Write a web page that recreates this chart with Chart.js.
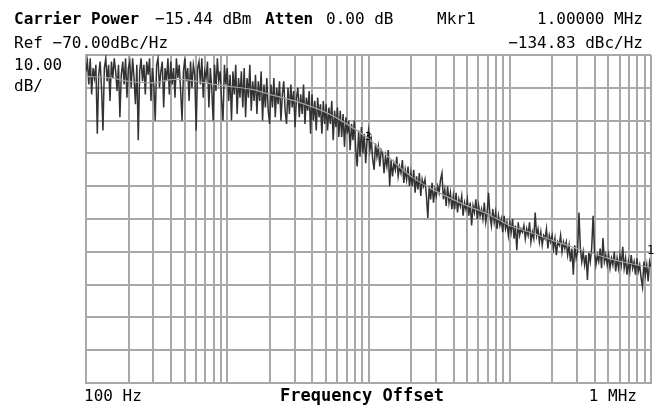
<!DOCTYPE html>
<html>
<head>
<meta charset="utf-8">
<script src="https://cdn.jsdelivr.net/npm/chart.js@4.4.1/dist/chart.umd.min.js"></script>
<style>
  body { margin: 0; background: #fff; }
  canvas { display: block; }
</style>
</head>
<body>
<canvas id="myChart" width="659" height="408"></canvas>
<script>
// sweep: 401 log-spaced points from 100 Hz to 1 MHz
var sweepStart = 100;
var sweepStop = 1000000;

// measured phase noise trace (dBc/Hz), one value per sweep point
var traceValues = [
    -75, -72, -79, -71, -82, -74, -77, -73, -94, -76,
    -72, -80, -93, -74, -71, -78, -73, -84, -72, -77,
    -71, -75, -81, -73, -89, -76, -72, -79, -71, -83,
    -74, -72, -80, -71, -77, -85, -73, -96, -75, -71,
    -78, -73, -82, -72, -76, -71, -84, -74, -79, -90,
    -73, -71, -80, -75, -72, -86, -74, -78, -71, -82,
    -72, -79, -74, -83, -71, -77, -73, -81, -90, -75,
    -71, -78, -74, -84, -72, -80, -73, -76, -93, -74,
    -72, -79, -71, -83, -75, -77, -72, -86, -74, -80,
    -90, -73, -81, -71, -78, -75, -84, -90, -73, -79,
    -74, -84, -76, -90, -75, -82, -73, -88, -77, -83,
    -75, -86, -74, -89, -77, -83, -73, -87, -78, -84,
    -76, -88, -78, -84, -75, -90, -79, -86, -77, -87,
    -91, -79, -86, -77, -89, -80, -85, -78, -90, -82,
    -78, -87, -91, -80, -88, -79, -86, -81, -92, -83,
    -80, -89, -82, -88, -79, -91, -83, -87, -81, -94,
    -82, -90, -84, -93, -83, -89, -85, -94, -84, -91,
    -85, -93, -86, -91, -84, -96, -87, -92, -86, -95,
    -87, -95, -88, -98, -89, -94, -90, -99, -91, -96,
    -90, -99, -104, -93, -101, -92, -100, -94, -103, -96,
    -93, -99, -96, -102, -105, -97, -101, -98, -104, -99,
    -100, -106, -101, -104, -99, -110, -102, -107, -103, -105,
    -101, -107, -104, -106, -102, -109, -105, -108, -104, -110,
    -106, -110, -105, -112, -107, -111, -106, -113, -108, -110,
    -108, -113, -119.7, -110, -114, -109, -115, -111, -113, -110,
    -112, -108, -106, -114, -111, -116, -110, -115, -112, -117,
    -113, -117, -112, -118, -114, -116, -113, -119, -115, -117,
    -114, -119, -115, -122, -116, -118, -114, -120, -116, -119,
    -117, -120, -115, -121, -118, -112, -119, -122, -117, -121,
    -118, -123, -119, -122, -120, -124, -119, -123, -121, -125,
    -121, -124, -120, -126, -122, -129.5, -121, -125, -123, -124,
    -122, -126, -123, -125, -121, -127, -124, -126, -118, -125,
    -123, -127, -124, -128, -125, -126, -123, -129, -125, -127,
    -125, -129, -126, -131, -127, -128, -125, -130, -127, -129,
    -127, -131, -128, -133, -129, -137, -128, -132, -130, -118,
    -129, -133, -130, -134, -131, -138.6, -130, -133, -129, -119,
    -130, -134, -131, -133, -129, -135, -125.8, -133, -131, -134,
    -131, -135, -132, -134, -130, -136, -132, -135, -131, -134,
    -128.5, -135, -132, -137, -133, -136, -131, -135, -133, -137,
    -132, -136, -134, -138, -140.7, -133, -137, -134, -139, -133,
    -134.8
];

// smoothed trace
var smoothFreq = [100, 150, 200, 300, 400, 500, 700, 1000, 1500, 2000, 3000, 5000, 7000,
    10000, 13000, 20000, 30000, 50000, 70000, 100000, 150000, 200000, 300000, 500000, 700000, 1000000];
var smoothValues = [-76.5, -77, -78, -78.5, -77.5, -77.5, -78.5, -79.5, -80.5, -82, -84, -87.5, -91,
    -95.5, -100, -107, -111.5, -116, -118.5, -122, -124.5, -126.5, -129, -132, -133.5, -134.8];

// grid lines on the frequency axis
var gridFreq = [];
[100, 1000, 10000, 100000].forEach(function(d) {
    for (var k = 1; k < 10; k++) gridFreq.push(d * k);
});
gridFreq.push(1000000);

var tracePoints = traceValues.map(function(v, i) {
    var f = sweepStart * Math.pow(sweepStop / sweepStart, i / (traceValues.length - 1));
    return { x: f, y: v };
});
var smoothPoints = smoothFreq.map(function(f, i) {
    return { x: f, y: smoothValues[i] };
});

var gridColor = '#a8a8a8';

// header, footer and marker text
var textPlugin = {
    id: 'analyzerText',
    afterDraw: function(chart) {
        var c = chart.ctx;
        c.save();
        c.fillStyle = '#000';
        c.textBaseline = 'alphabetic';
        var mono = '"DejaVu Sans Mono", monospace';
        function t(s, x, y, size, bold, align) {
            c.font = (bold ? 'bold ' : '') + size + 'px ' + mono;
            c.textAlign = align || 'left';
            c.fillText(s, x, y);
        }
        t('Carrier Power', 14, 24, 16, true);
        t('\u221215.44 dBm', 155, 24, 16, false);
        t('Atten', 265, 24, 16, true);
        t('0.00 dB', 326, 24, 16, false);
        t('Mkr1', 437, 24, 16, false);
        t('1.00000 MHz', 643, 24, 16, false, 'right');
        t('Ref \u221270.00dBc/Hz', 14, 48, 16, false);
        t('\u2212134.83 dBc/Hz', 643, 48, 16, false, 'right');
        t('10.00', 14, 70, 16, false);
        t('dB/', 14, 91, 16, false);
        t('100 Hz', 84, 401, 16, false);
        t('Frequency Offset', 362, 401, 17, true, 'center');
        t('1 MHz', 637, 401, 16, false, 'right');
        t('3', 365, 140, 11, false);
        t('1', 647, 254, 12, false);
        c.restore();
    }
};

var ctx = document.getElementById('myChart').getContext('2d');
var myChart = new Chart(ctx, {
    type: 'line',
    data: {
        datasets: [{
            label: 'Smoothed',
            data: smoothPoints,
            borderColor: '#a4a4a4',
            borderWidth: 1.2,
            pointRadius: 0,
            tension: 0.3
        }, {
            label: 'Trace',
            data: tracePoints,
            borderColor: '#333333',
            borderWidth: 1.5,
            pointRadius: 0,
            tension: 0
        }]
    },
    options: {
        responsive: false,
        animation: false,
        devicePixelRatio: 1,
        layout: { padding: { left: 86, right: 8, top: 55, bottom: 25 } },
        plugins: { legend: { display: false }, tooltip: { enabled: false } },
        scales: {
            x: {
                type: 'logarithmic',
                min: 100,
                max: 1000000,
                afterBuildTicks: function(scale) {
                    scale.ticks = gridFreq.map(function(f) { return { value: f }; });
                },
                ticks: { display: false },
                grid: { color: gridColor, lineWidth: 2, drawTicks: false },
                border: { color: gridColor, width: 2 }
            },
            y: {
                min: -170,
                max: -70,
                ticks: { display: false, stepSize: 10 },
                grid: { color: gridColor, lineWidth: 2, drawTicks: false },
                border: { color: gridColor, width: 2 }
            }
        }
    },
    plugins: [textPlugin]
});
</script>
</body>
</html>
